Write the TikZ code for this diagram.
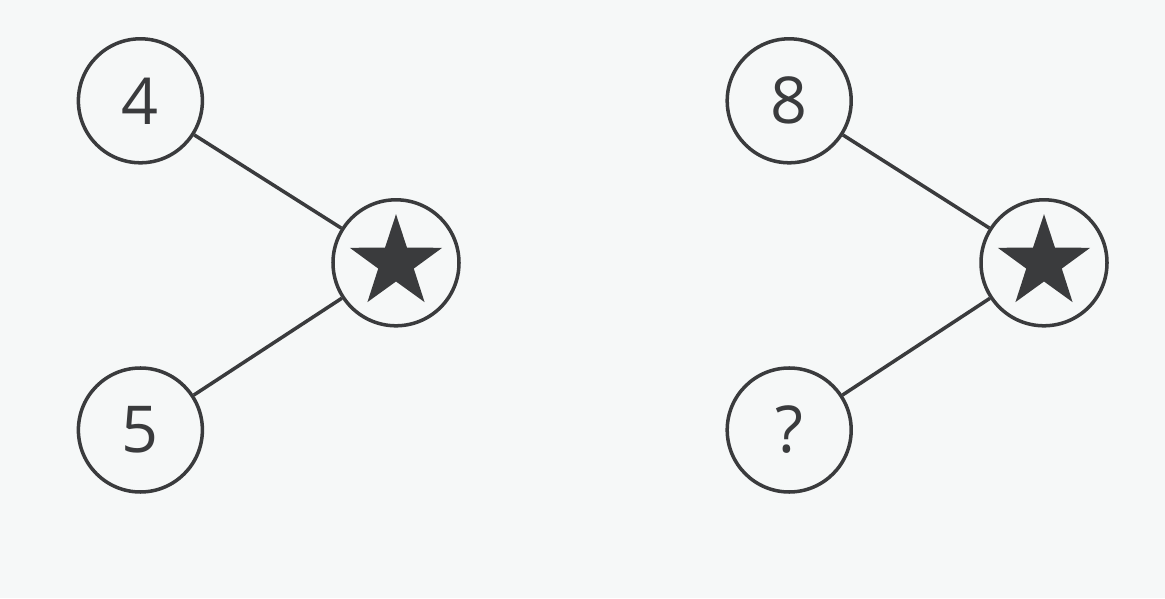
\documentclass[tikz,border=0pt]{standalone}
\usepackage{fontspec}
\setmainfont{Open Sans}
\usetikzlibrary{shapes.geometric}
\definecolor{paper}{HTML}{F6F8F8}
\definecolor{ink}{HTML}{3A3B3D}
\tikzset{
  numnode/.style={circle, draw=ink, line width=2.5pt, minimum size=3.1cm, inner sep=0pt,
    text=ink, font=\fontsize{46}{50}\selectfont},
  starbox/.style={circle, draw=ink, line width=2.5pt, minimum size=3.15cm, inner sep=0pt},
  starmark/.style={star, star points=5, star point ratio=2.6, fill=ink, inner sep=0pt, minimum size=2.43cm},
  link/.style={draw=ink, line width=2.5pt}
}
\begin{document}
\begin{tikzpicture}
    \fill[paper] (0,0) rectangle (29.125,14.95);
    \useasboundingbox (0,0) rectangle (29.125,14.95);
    % left pair
    \node[numnode] (four) at (3.51,12.43) {4};
    \node[numnode] (five) at (3.51,4.2) {5};
    \node[starbox] (s1) at (9.9,8.38) {};
    \node[starmark] (st1) at (s1) {};
    \draw[link] (four) -- (s1);
    \draw[link] (five) -- (s1);
    % right pair
    \node[numnode] (eight) at (19.73,12.43) {8};
    \node[numnode] (qm) at (19.73,4.2) {?};
    \node[starbox] (s2) at (26.1,8.38) {};
    \node[starmark] (st2) at (s2) {};
    \draw[link] (eight) -- (s2);
    \draw[link] (qm) -- (s2);
\end{tikzpicture}
\end{document}
